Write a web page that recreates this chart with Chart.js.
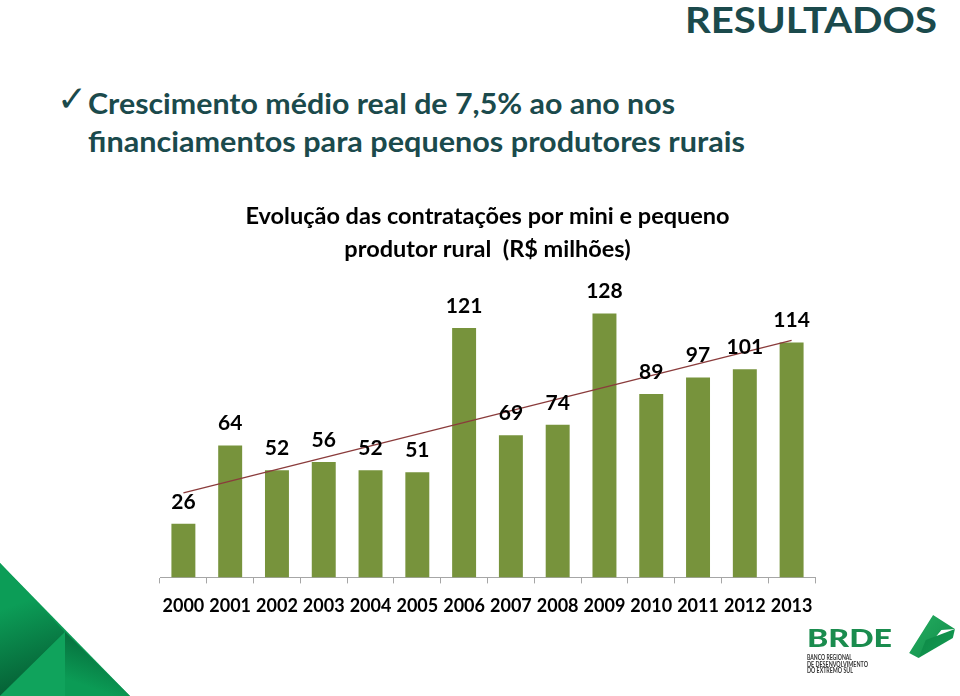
<!DOCTYPE html>
<html>
<head>
<meta charset="utf-8">
<script src="https://cdn.jsdelivr.net/npm/chart.js@4.4.1/dist/chart.umd.min.js"></script>
<style>
  html, body { margin: 0; padding: 0; background: #fff; }
  body { width: 960px; height: 696px; position: relative; overflow: hidden; font-family: Lato, sans-serif; }
  .txt { position: absolute; white-space: nowrap; line-height: 1; font-weight: bold; color: #1B4A4C; transform-origin: left top; display: inline-block; }
  #chartBox { position: absolute; left: 140px; top: 190px; width: 695px; height: 446px; }
  .shape { position: absolute; }
</style>
</head>
<body>
<div class="txt" id="heading" style="left:685px; top:1px; font-size:36px;">RESULTADOS</div>
<div class="txt" id="check" style="left:57px; top:81px; font-size:36px; font-family:'DejaVu Sans'; font-weight:normal;">✓</div>
<div class="txt" id="line1" style="left:88px; top:89px; font-size:28px;">Crescimento médio real de 7,5% ao ano nos</div>
<div class="txt" id="line2" style="left:88px; top:127px; font-size:28px;">financiamentos para pequenos produtores rurais</div>

<div id="chartBox"><canvas id="grafik"></canvas></div>

<!-- segitiga hijau kiri bawah -->
<div class="shape" style="left:0; top:563px; width:130px; height:133px; background:#0B9B55; clip-path:polygon(0 0, 100% 100%, 0 100%);"></div>
<div class="shape" style="left:0; top:563px; width:65px; height:133px; background:linear-gradient(160deg, #0C9D57 30%, #04512D 100%); clip-path:polygon(0 0, 100% 52%, 0 100%);"></div>
<div class="shape" style="left:65px; top:632px; width:65px; height:64px; background:linear-gradient(200deg, #045B32 0%, #0B9B55 80%); clip-path:polygon(0 0, 100% 100%, 0 100%);"></div>
<div class="shape" style="left:0; top:632px; width:65px; height:64px; background:#10A35C; clip-path:polygon(100% 0, 100% 100%, 0 100%);"></div>

<!-- logo BRDE -->
<div class="txt" id="brde" style="left:807px; top:626px; font-size:24px; color:#1A8C4E; font-weight:900;">BRDE</div>
<div class="txt" id="b1" style="left:807px; top:655px; font-size:6.5px; color:#333;">BANCO REGIONAL</div>
<div class="txt" id="b2" style="left:807px; top:661.5px; font-size:6.5px; color:#333;">DE DESENVOLVIMENTO</div>
<div class="txt" id="b3" style="left:807px; top:668px; font-size:6.5px; color:#333;">DO EXTREMO SUL</div>
<div class="shape" style="left:905px; top:612px; width:52px; height:50px; background:linear-gradient(135deg, #27B063 0%, #0E8A47 100%); clip-path:polygon(8% 82%, 54% 6%, 96% 34%, 70% 36%, 26% 92%);"></div>
<div class="shape" style="left:905px; top:612px; width:52px; height:50px; background:linear-gradient(135deg, #0A7A3E 0%, #14A055 100%); clip-path:polygon(40% 56%, 96% 34%, 92% 52%, 26% 92%);"></div>

<script>
// data grafik
const years = ["2000", "2001", "2002", "2003", "2004", "2005", "2006", "2007", "2008", "2009", "2010", "2011", "2012", "2013"];
const values = [26, 64, 52, 56, 52, 51, 121, 69, 74, 128, 89, 97, 101, 114];
// garis tren (ujung awal dan akhir)
const trendValues = [41, null, null, null, null, null, null, null, null, null, null, null, null, 115];
const titleLines = ["Evolução das contratações por mini e pequeno", "produtor rural  (R$ milhões)"];

// sesuaikan lebar teks html
function fitWidth(id, w) {
  const el = document.getElementById(id);
  const r = el.getBoundingClientRect().width;
  el.style.transform = "scaleX(" + (w / r) + ")";
}
fitWidth("heading", 252);
fitWidth("line1", 587);
fitWidth("line2", 657);
fitWidth("brde", 85);
fitWidth("b1", 45);
fitWidth("b2", 61);
fitWidth("b3", 46);

// plugin label angka di atas batang
const barLabels = {
  id: "barLabels",
  afterDatasetsDraw(chart) {
    const ctx = chart.ctx;
    const meta = chart.getDatasetMeta(0);
    ctx.save();
    ctx.font = "bold 21px Lato";
    ctx.fillStyle = "#000";
    ctx.textAlign = "center";
    ctx.textBaseline = "middle";
    meta.data.forEach((bar, i) => {
      ctx.fillText(String(values[i]), bar.x, bar.y - 22);
    });
    ctx.restore();
  },
};

const ctx = document.getElementById("grafik").getContext("2d");
new Chart(ctx, {
  data: {
    labels: years,
    datasets: [
      {
        type: "bar",
        data: values,
        backgroundColor: "#77933C",
        categoryPercentage: 0.8,
        barPercentage: 0.64,
        order: 2,
      },
      {
        type: "line",
        data: trendValues,
        spanGaps: true,
        borderColor: "#8A3B3B",
        borderWidth: 1.3,
        pointRadius: 0,
        fill: false,
        order: 1,
      },
    ],
  },
  options: {
    responsive: true,
    maintainAspectRatio: false,
    animation: false,
    layout: { padding: { left: 20, right: 20, top: 0, bottom: 7 } },
    plugins: {
      legend: { display: false },
      tooltip: { enabled: false },
      title: {
        display: true,
        text: titleLines,
        color: "#000",
        font: { family: "Lato", size: 23.5, weight: "bold", lineHeight: 1.4 },
        padding: { top: 10, bottom: 23 },
      },
    },
    scales: {
      x: {
        offset: true,
        border: { color: "#A6A6A6", width: 1 },
        grid: { display: true, drawOnChartArea: false, offset: true, tickLength: 6, color: "#A6A6A6" },
        ticks: { color: "#000", font: { family: "Lato", size: 18, weight: "bold" }, padding: 12, maxRotation: 0, autoSkip: false },
      },
      y: { display: false, min: 0, max: 140 },
    },
  },
  plugins: [barLabels],
});
</script>
</body>
</html>
